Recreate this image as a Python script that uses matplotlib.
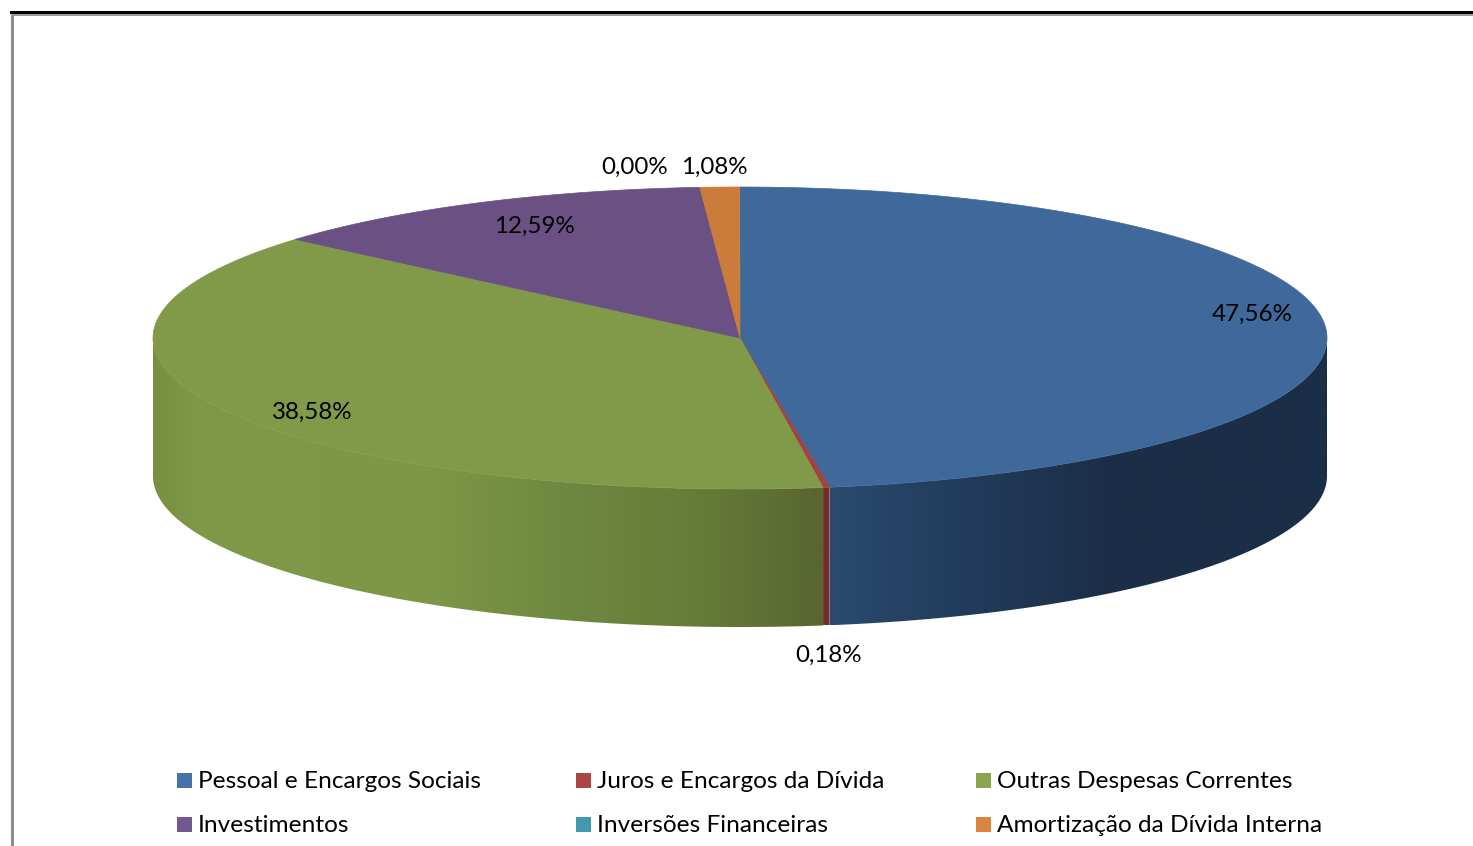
import matplotlib
matplotlib.use("Agg")
import matplotlib.pyplot as plt
import numpy as np
from matplotlib.colors import to_rgb
from matplotlib.patches import Polygon, Rectangle

labels = [
    "Pessoal e Encargos Sociais",
    "Juros e Encargos da Dívida",
    "Outras Despesas Correntes",
    "Investimentos",
    "Inversões Financeiras",
    "Amortização da Dívida Interna",
]
values = [47.56, 0.18, 38.58, 12.59, 0.00, 1.08]
value_labels = ["47,56%", "0,18%", "38,58%", "12,59%", "0,00%", "1,08%"]

legend_colors = ["#4572A7", "#AA4643", "#89A54E", "#71588F", "#4198AF", "#DB843D"]
top_colors = ["#40699B", "#A5423F", "#819A49", "#6A5083", "#3D8EA5", "#CB7B3A"]

# side wall shading: (pixel x, colour) stops for the slices that reach the front
side_stops = {
    0: [(830, "#2A4A6E"), (960, "#223C5C"), (1110, "#1B2E47"), (1327, "#1B2E47")],
    1: [(820, "#752C2A"), (832, "#752C2A")],
    2: [(152, "#76903F"), (200, "#7F9949"), (430, "#7D9647"), (560, "#6F8940"),
        (700, "#667B38"), (822, "#586631")],
}

CX, CY = 740, 338
RX, RY = 587, 151
DEPTH = 138

# label centres in pixels, same order as values
label_pos = [(1252, 314), (829, 655), (312, 412), (534, 226), (635, 167), (714, 167)]
legend_x = [177, 576, 976]
legend_y = [782, 826]

plt.rcParams["font.family"] = ["Lato", "DejaVu Sans"]

fig = plt.figure(figsize=(14.73, 8.46), dpi=100)
ax = fig.add_axes([0, 0, 1, 1])


def rim(theta):
    # theta in radians, clockwise from the top of the ellipse
    return CX + RX * np.sin(theta), CY - RY * np.cos(theta)


edges = np.radians(np.concatenate([[0], np.cumsum(values)]) * 3.6)

# side wall, front half only: gradient image clipped to the wall outline
for i, stops in side_stops.items():
    start = max(edges[i], np.pi / 2)
    stop = min(edges[i + 1], 3 * np.pi / 2)
    th = np.linspace(start, stop, 200)
    xs, ys = rim(th)
    outline = list(zip(xs, ys)) + list(zip(xs[::-1], ys[::-1] + DEPTH))
    wall = Polygon(outline, closed=True, facecolor="none", edgecolor="none", transform=ax.transData)
    ax.add_patch(wall)
    x0, x1 = xs.min(), xs.max()
    grid = np.linspace(x0, x1, 400)
    stop_x = [s[0] for s in stops]
    stop_c = np.array([to_rgb(s[1]) for s in stops])
    grad = np.stack([np.interp(grid, stop_x, stop_c[:, c]) for c in range(3)], axis=1)[None, :, :]
    im = ax.imshow(grad, extent=[x0, x1, ys.max() + DEPTH, ys.min()], aspect="auto", interpolation="bilinear")
    im.set_clip_path(wall)

ax.set_xlim(0, 1473)
ax.set_ylim(846, 0)
ax.axis("off")

# frame
ax.add_patch(Rectangle((11, 13), 3, 833, color="#8c8c8c", lw=0))
ax.add_patch(Rectangle((11, 13), 1462, 3, color="#9a9a9a", lw=0))
ax.add_patch(Rectangle((10, 11), 1463, 3, color="black", lw=0))

# top face
for i in range(len(values)):
    if values[i] == 0:
        continue
    th = np.linspace(edges[i], edges[i + 1], max(3, int(values[i] * 8)))
    xs, ys = rim(th)
    pts = [(CX, CY)] + list(zip(xs, ys))
    ax.add_patch(Polygon(pts, closed=True, facecolor=top_colors[i], edgecolor=top_colors[i], lw=0.5))

for text, (x, y) in zip(value_labels, label_pos):
    ax.text(x, y, text, ha="center", va="center", fontsize=17.4, color="black")

# legend, two rows of three
for i, name in enumerate(labels):
    x = legend_x[i % 3]
    y = legend_y[i // 3]
    ax.add_patch(Rectangle((x, y - 8.5), 15, 15, color=legend_colors[i], lw=0))
    ax.text(x + 21, y, name, ha="left", va="center", fontsize=17.6, color="black")

fig.savefig("out.png", dpi=100)
